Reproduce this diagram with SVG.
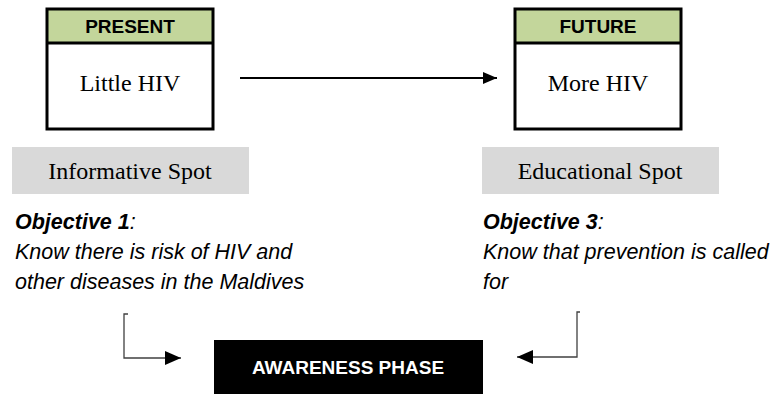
<svg xmlns="http://www.w3.org/2000/svg" width="773" height="394" viewBox="0 0 773 394">
<style>
.hdr{fill:#c3d69b;stroke:none}
.frame{fill:none;stroke:#000;stroke-width:3}
.hl{stroke:#000;stroke-width:3}
.ht{font-family:"Liberation Sans",Arial,sans-serif;font-weight:bold;font-size:19px;fill:#000;text-anchor:middle}
.st{font-family:"Liberation Serif","Times New Roman",serif;font-size:24px;fill:#000;text-anchor:middle}
.gray{fill:#d9d9d9}
.obj{font-family:"Liberation Sans",Arial,sans-serif;font-style:italic;font-size:21.5px;fill:#000}
.conn{fill:none;stroke:#404040;stroke-width:1.3}
</style>
<defs>
<marker id="ah" viewBox="0 0 14 12" refX="14" refY="6" markerWidth="14" markerHeight="12" markerUnits="userSpaceOnUse" orient="auto">
<path d="M0,0 L14,6 L0,12 z" fill="#000"/>
</marker>
<marker id="ah2" viewBox="0 0 16 14" refX="16" refY="7" markerWidth="16" markerHeight="14" markerUnits="userSpaceOnUse" orient="auto">
<path d="M0,0 L16,7 L0,14 z" fill="#000"/>
</marker>
</defs>
<g id="present">
<rect class="hdr" x="47" y="9" width="166" height="34"/>
<rect class="frame" x="47" y="9" width="166" height="120"/>
<line class="hl" x1="47" y1="43" x2="213" y2="43"/>
<text class="ht" x="130" y="33">PRESENT</text>
<text class="st" x="130" y="91">Little HIV</text>
</g>
<g id="future">
<rect class="hdr" x="515" y="9" width="166" height="34"/>
<rect class="frame" x="515" y="9" width="166" height="120"/>
<line class="hl" x1="515" y1="43" x2="681" y2="43"/>
<text class="ht" x="598" y="33">FUTURE</text>
<text class="st" x="598" y="91">More HIV</text>
</g>
<g id="informative">
<rect class="gray" x="12" y="147" width="237" height="47"/>
<text class="st" x="130" y="179">Informative Spot</text>
</g>
<g id="educational">
<rect class="gray" x="482" y="147" width="237" height="47"/>
<text class="st" x="600" y="179">Educational Spot</text>
</g>
<g id="objective1">
<text class="obj" x="15" y="229"><tspan font-weight="bold">Objective 1</tspan>:</text>
<text class="obj" x="15" y="259">Know there is risk of HIV and</text>
<text class="obj" x="15" y="289">other diseases in the Maldives</text>
</g>
<g id="objective3">
<text class="obj" x="483" y="229"><tspan font-weight="bold">Objective 3</tspan>:</text>
<text class="obj" x="483" y="259">Know that prevention is called</text>
<text class="obj" x="483" y="289">for</text>
</g>
<g id="awareness">
<rect x="214" y="340" width="269" height="54" fill="#000"/>
<text x="348" y="374" font-family="'Liberation Sans',Arial,sans-serif" font-weight="bold" font-size="19" fill="#fff" text-anchor="middle">AWARENESS PHASE</text>
</g>
<g id="connectors">
<line x1="240" y1="78" x2="497" y2="78" stroke="#000" stroke-width="2" marker-end="url(#ah)"/>
<path class="conn" d="M128,314 H124 V358 H181" marker-end="url(#ah2)"/>
<path class="conn" d="M580,312 H577 V357 H517" stroke="#909090" marker-end="url(#ah2)"/>
</g>
</svg>
